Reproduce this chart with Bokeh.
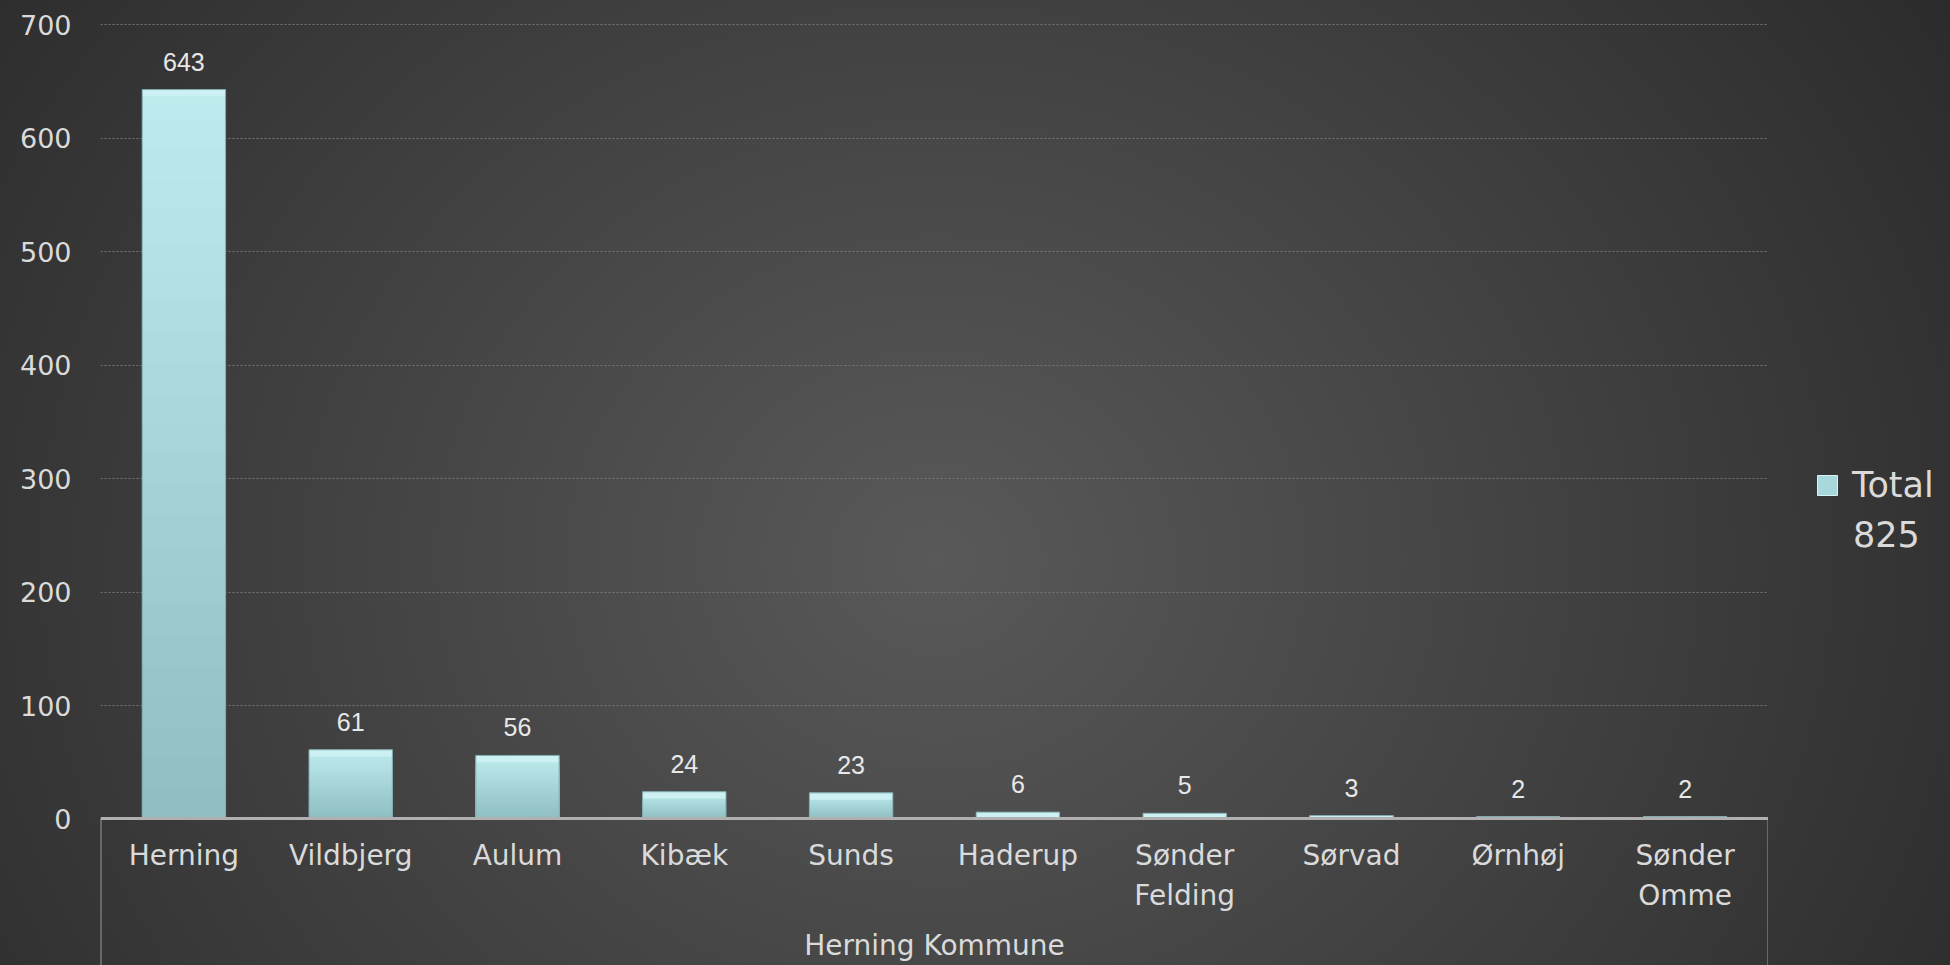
from bokeh.plotting import figure
from bokeh.layouts import row
from bokeh.models import (FactorRange, Range1d, ColumnDataSource, LabelSet, Legend,
                          LegendItem, InlineStyleSheet, GlobalInlineStyleSheet)
from bokeh.core.properties import value
from bokeh.embed import file_html
from bokeh.resources import INLINE

# ---------------- data ----------------
group = "Herning Kommune"
categories = ["Herning", "Vildbjerg", "Aulum", "Kibæk", "Sunds", "Haderup",
              "Sønder\nFelding", "Sørvad", "Ørnhøj", "Sønder\nOmme"]
values = [643, 61, 56, 24, 23, 6, 5, 3, 2, 2]
y_ticks = [0, 100, 200, 300, 400, 500, 600, 700]
series_name = "Total"
series_total = 825

# ---------------- styling ----------------
TXT = "#dadada"
BAR_TOP = (0xbd, 0xea, 0xed)
BAR_BOT = (0x8f, 0xbf, 0xc2)
N_STEPS = 24

factors = [(group, c) for c in categories]

p = figure(width=1768, height=965,
           x_range=FactorRange(*factors, range_padding=0),
           y_range=Range1d(-129.2, 703),
           output_backend="svg", toolbar_location=None,
           min_border_left=100, min_border_right=0,
           min_border_top=21, min_border_bottom=0)
p.title.visible = False
p.background_fill_color = None
p.border_fill_color = None
p.outline_line_color = None

# grid
p.xgrid.visible = False
p.ygrid.grid_line_color = "#767676"
p.ygrid.grid_line_dash = "2 2"
p.ygrid.grid_line_width = 1

# y axis
p.yaxis.ticker = y_ticks
p.yaxis.axis_line_color = None
p.yaxis.major_tick_line_color = None
p.yaxis.minor_tick_line_color = None
p.yaxis.major_label_standoff = 23
p.yaxis.major_label_text_font = "DejaVu Sans"
p.yaxis.major_label_text_font_size = "27px"
p.yaxis.major_label_text_color = TXT

# x axis, fixed at y = 0
xa = p.xaxis[0]
xa.fixed_location = 0
xa.axis_line_color = "#b0b0b0"
xa.axis_line_width = 3
xa.major_tick_line_color = None
xa.minor_tick_line_color = None
xa.major_label_standoff = 14
xa.major_label_text_font = "DejaVu Sans"
xa.major_label_text_font_size = "28px"
xa.major_label_text_color = TXT
xa.group_text_font = "DejaVu Sans"
xa.group_text_font_size = "28px"
xa.group_text_color = TXT
xa.group_text_font_style = "normal"
xa.separator_line_color = None

# box lines below the axis at the category area edges
ncat = len(categories)
p.segment(x0=[0, ncat], y0=[0, 0], x1=[0, ncat], y1=[p.y_range.start] * 2,
          line_color="#9a9a9a", line_width=2)

# bars with vertical gradient
src = ColumnDataSource(dict(x=factors, top=values, lbl=[str(v) for v in values]))
for k in range(N_STEPS, 0, -1):
    f = k / N_STEPS
    t = (k - 1) / (N_STEPS - 1)
    col = "#%02x%02x%02x" % tuple(int(round(b + (a - b) * t)) for a, b in zip(BAR_TOP, BAR_BOT))
    tops = [v * f for v in values]
    p.vbar(x=factors, top=tops, bottom=0, width=0.5, fill_color=col, line_color=None)
# top bevel
cap_bottoms = [max(v - 6.0, 0) for v in values]
p.vbar(x=factors, top=values, bottom=cap_bottoms, width=0.5, fill_color="#cdf1f2", line_color=None)
p.vbar(x=factors, top=values, bottom=0, width=0.5, fill_color=None, line_color="#7fa9ac", line_width=1)

labels = LabelSet(x="x", y="top", text="lbl", source=src, y_offset=19,
                  text_align="center", text_baseline="alphabetic",
                  text_font=value("Liberation Sans"), text_font_size=value("25px"),
                  text_color="#e8e8e8")
p.add_layout(labels)

# ---------------- legend panel ----------------
q = figure(width=182, height=965, x_range=Range1d(0, 182), y_range=Range1d(0, 965),
           output_backend="svg", toolbar_location=None,
           x_axis_location=None, y_axis_location=None,
           min_border_left=0, min_border_right=0, min_border_top=0, min_border_bottom=0)
q.title.visible = False
q.grid.visible = False
q.background_fill_color = None
q.border_fill_color = None
q.outline_line_color = None

swatch = q.scatter(x=[0], y=[0], marker="square", size=0,
                   fill_color="#a8d8db", line_color="#d6f3f4", line_width=1)
blank = q.scatter(x=[0], y=[0], marker="square", size=0,
                  fill_color=None, line_color=None)

common = dict(padding=0, margin=0, spacing=0, glyph_width=50, glyph_height=50,
              label_text_font="DejaVu Sans", label_text_font_size="35px",
              label_text_color=TXT, background_fill_alpha=0, border_line_color=None)
leg_name = Legend(items=[LegendItem(label=series_name, renderers=[swatch])],
                  location=(34, 455), label_standoff=-18, **common)
leg_total = Legend(items=[LegendItem(label=str(series_total), renderers=[blank])],
                   location=(34, 405), label_standoff=1, **common)
q.add_layout(leg_name)
q.add_layout(leg_total)

layout = row(p, q, spacing=0)
layout.stylesheets = [
    InlineStyleSheet(css=":host { background: radial-gradient(ellipse 62% 110% at 48% 58%, #595959 0%, #2b2b2b 100%); }"),
    GlobalInlineStyleSheet(css="html, body { background: #2c2c2c; margin: 0; padding: 0; overflow: hidden; }"),
]

open("out.html", "w").write(file_html(layout, INLINE))
